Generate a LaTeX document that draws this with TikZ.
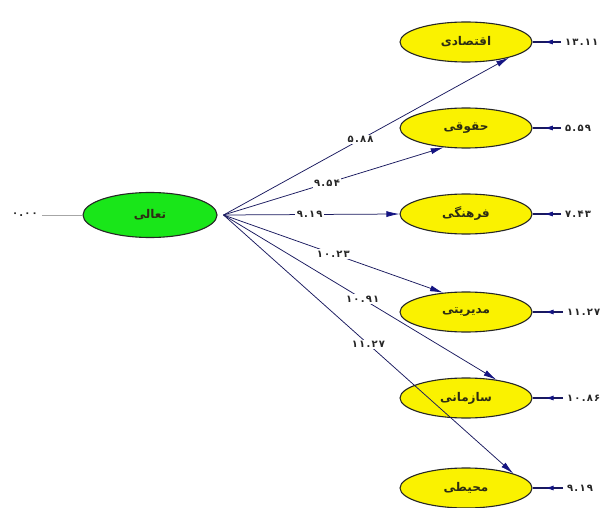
\documentclass[tikz,border=0pt]{standalone}
\usepackage{fontspec}
\setmainfont{DejaVu Sans}
\newfontfamily\arabicfont[Script=Arabic]{DejaVu Sans}
\newfontfamily\numfont[LetterSpace=12]{DejaVu Sans}
\TeXXeTstate=1
\usetikzlibrary{shapes.geometric,arrows.meta,decorations.markings}
\definecolor{navy}{RGB}{25,25,95}
\definecolor{arrowblue}{RGB}{20,20,130}
\definecolor{facyellow}{RGB}{250,242,0}
\definecolor{facgreen}{RGB}{25,230,25}
\definecolor{labtext}{RGB}{45,45,20}
\begin{document}
\begin{tikzpicture}[x=1pt,y=-1pt,
  factor/.style={ellipse, draw=black!85, line width=1.1pt, minimum width=132pt,
    minimum height=40pt, inner sep=0pt, text=labtext,
    font=\arabicfont\bfseries\fontsize{12}{14}\selectfont},
  yfac/.style={factor, fill=facyellow},
  gfac/.style={factor, fill=facgreen, minimum width=134pt, minimum height=45pt},
  pathline/.style={draw=navy, line width=0.75pt,
    -{Latex[length=13pt,width=6pt,color=arrowblue]}},
  coef/.style={fill=white, inner sep=1.5pt, text=black!85,
    font=\numfont\bfseries\fontsize{10}{11}\selectfont},
  errlab/.style={anchor=west, inner ysep=1pt, inner xsep=4pt, text=black!85,
    font=\numfont\bfseries\fontsize{10}{11}\selectfont},
  errline/.style={draw=navy, line width=1.1pt, postaction={decorate},
    decoration={markings, mark=at position 0.6 with
      {\arrow{Latex[length=9pt,width=5pt,color=arrowblue]}}}}
]
\useasboundingbox (0,0) rectangle (616,508);
\fill[white] (0,0) rectangle (616,508);

% factors
\node[gfac] (t) at (150,215) {\beginR تعالی\endR};
\node[yfac] (f1) at (466,42)  {\beginR اقتصادی\endR};
\node[yfac] (f2) at (466,128) {\beginR حقوقی\endR};
\node[yfac] (f3) at (466,214) {\beginR فرهنگی\endR};
\node[yfac] (f4) at (466,312) {\beginR مدیریتی\endR};
\node[yfac] (f5) at (466,398) {\beginR سازمانی\endR};
\node[yfac] (f6) at (466,488) {\beginR محیطی\endR};

% left label
\node[errlab, anchor=east] (l0) at (42,215) {۰.۰۰};
\draw[gray!70, line width=0.4pt] (l0.east) -- (t.west);

% fan origin
\coordinate (o) at ([xshift=6pt]t.east);

% paths
\draw[pathline] (o) -- node[coef, pos=0.48] {۵.۸۸} (f1.-20);
\draw[pathline] (o) -- node[coef, pos=0.47] {۹.۵۴} (f2.221);
\draw[pathline] (o) -- node[coef, pos=0.49] {۹.۱۹} (f3.west);
\draw[pathline] (o) -- node[coef, pos=0.50] {۱۰.۲۳} (f4.140);
\draw[pathline] (o) -- node[coef, pos=0.51] {۱۰.۹۱} (f5.31);
\draw[pathline] (o) -- node[coef, pos=0.50] {۱۱.۲۷} (f6.17);

% error labels
\node[errlab] (e1) at (561,42)  {۱۳.۱۱};
\node[errlab] (e2) at (561,128) {۵.۵۹};
\node[errlab] (e3) at (561,214) {۷.۴۳};
\node[errlab] (e4) at (563,312) {۱۱.۲۷};
\node[errlab] (e5) at (563,398) {۱۰.۸۶};
\node[errlab] (e6) at (563,488) {۹.۱۹};
\foreach \i in {1,...,6} {
  \draw[errline] (e\i.west) -- (f\i.east);
}
\end{tikzpicture}
\end{document}
